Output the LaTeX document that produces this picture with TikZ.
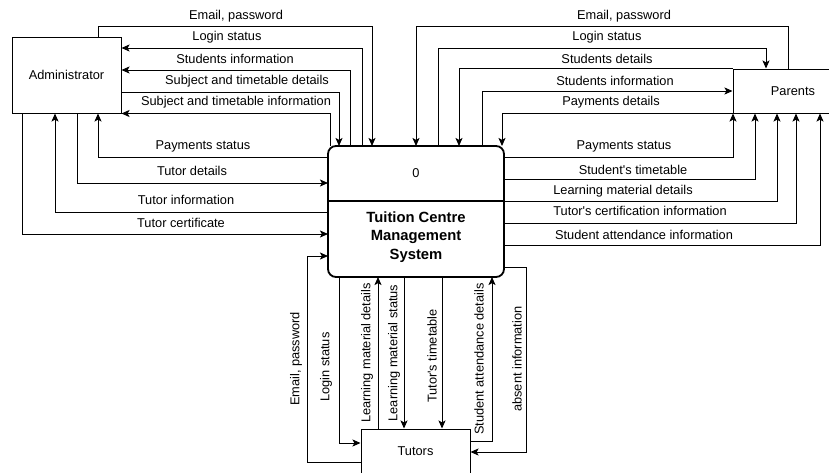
\documentclass[tikz,border=0pt]{standalone}
\usepackage{fontspec}
\setmainfont{Liberation Sans}
\usetikzlibrary{arrows.meta}
\begin{document}
\begin{tikzpicture}[x=1pt,y=-1pt,
  font=\fontsize{12.8}{15}\selectfont,
  ent/.style={draw,line width=1pt,minimum width=109pt,inner sep=0pt},
  flow/.style={draw,line width=1pt,-{Stealth[length=8pt,width=7pt,inset=1.8pt]}},
  lab/.style={inner sep=0pt},
  vlab/.style={inner sep=0pt,rotate=90}]
\useasboundingbox (0,0) rectangle (829,472);
\clip (0,0) rectangle (829,472);
% entities
\node[ent, minimum height=76pt] (admin) at (66.5,75) {Administrator};
\node[ent, minimum width=120pt, minimum height=44pt] (parents) at (793,91) {Parents};
\node[ent, minimum height=44pt] (tutors) at (415.5,451) {Tutors};
% process
\node[draw, line width=1.8pt, rounded corners=8pt, outer sep=0pt,
      minimum width=176pt, minimum height=131pt] (proc) at (416,211.5) {};
\draw[line width=1.8pt] (proc.west |- 0,201) -- (proc.east |- 0,201);
\node (p0) at (416,173) {0};
\node[font=\fontsize{14.8}{18.5}\selectfont\bfseries, align=center] (ptitle) at (416,237) {Tuition Centre\\Management\\System};
% left side flows
\draw[flow] (admin.north -| 98,0) |- (372,26) -- (proc.north -| 372,0);
\draw[flow] (proc.north -| 362,0) |- (admin.east |- 0,48);
\draw[flow] (proc.north -| 350,0) |- (admin.east |- 0,70);
\draw[flow] (admin.east |- 0,92) -| (proc.north -| 339,0);
\draw[flow] (proc.north -| 330,0) |- (admin.south east);
\draw[flow] (proc.west |- 0,157) -| (admin.south -| 98,0);
\draw[flow] (admin.south -| 77,0) |- (proc.west |- 0,183);
\draw[flow] (proc.west |- 0,212) -| (admin.south -| 55,0);
\draw[flow] (admin.south -| 22,0) |- (proc.west |- 0,234);
% right side flows
\draw[flow] (parents.north -| 788,0) |- (416,26) -- (proc.north -| 416,0);
\draw[flow] (proc.north -| 438,0) |- (766,48) -- (parents.north -| 766,0);
\draw[flow] (parents.north west) -| (proc.north -| 459,0);
\draw[flow] (proc.north -| 482,0) |- (parents.west |- 0,91);
\draw[flow] (parents.south west) -| (proc.north -| 502,0);
\draw[flow] (proc.east |- 0,157) -| (parents.south -| 733,0);
\draw[flow] (proc.east |- 0,179) -| (parents.south -| 755,0);
\draw[flow] (proc.east |- 0,201) -| (parents.south -| 777,0);
\draw[flow] (proc.east |- 0,223) -| (parents.south -| 796,0);
\draw[flow] (proc.east |- 0,245) -| (parents.south -| 820,0);
% bottom flows
\draw[flow] (tutors.west |- 0,462) -| (307,256) -- (proc.west |- 0,256);
\draw[flow] (proc.south -| 339,0) |- (tutors.west |- 0,443);
\draw[flow] (tutors.north -| 378,0) -- (proc.south -| 378,0);
\draw[flow] (proc.south -| 404,0) -- (tutors.north -| 404,0);
\draw[flow] (proc.south -| 442,0) -- (tutors.north -| 442,0);
\draw[flow] (tutors.east |- 0,441) -| (proc.south -| 492,0);
\draw[flow] (proc.east |- 0,267) -| (526,452) -- (tutors.east |- 0,452);
% left labels
\node[lab] (la1) at (236,16) {Email, password};
\node[lab] (la2) at (227,37) {Login status};
\node[lab] (la3) at (235,59) {Students information};
\node[lab] (la4) at (247,81) {Subject and timetable details};
\node[lab] (la5) at (236,102) {Subject and timetable information};
\node[lab] (la6) at (203,146) {Payments status};
\node[lab] (la7) at (192,171) {Tutor details};
\node[lab] (la8) at (186,200) {Tutor information};
\node[lab] (la9) at (181,223) {Tutor certificate};
% right labels
\node[lab] (lb1) at (624,16) {Email, password};
\node[lab] (lb2) at (607,37) {Login status};
\node[lab] (lb3) at (607,59) {Students details};
\node[lab] (lb4) at (615,81) {Students information};
\node[lab] (lb5) at (611,102) {Payments details};
\node[lab] (lb6) at (624,146) {Payments status};
\node[lab] (lb7) at (633,170) {Student\textquotesingle s timetable};
\node[lab] (lb8) at (623,191) {Learning material details};
\node[lab] (lb9) at (640,211) {Tutor\textquotesingle s certification information};
\node[lab] (lb10) at (644,235) {Student attendance information};
% bottom labels
\node[vlab] (lc1) at (296,359) {Email, password};
\node[vlab] (lc2) at (326,367) {Login status};
\node[vlab] (lc3) at (367,353) {Learning material details};
\node[vlab] (lc4) at (394,353) {Learning material status};
\node[vlab] (lc5) at (432,356) {Tutor\textquotesingle s timetable};
\node[vlab] (lc6) at (479,359) {Student attendance details};
\node[vlab] (lc7) at (517,359) {absent information};
\end{tikzpicture}
\end{document}
